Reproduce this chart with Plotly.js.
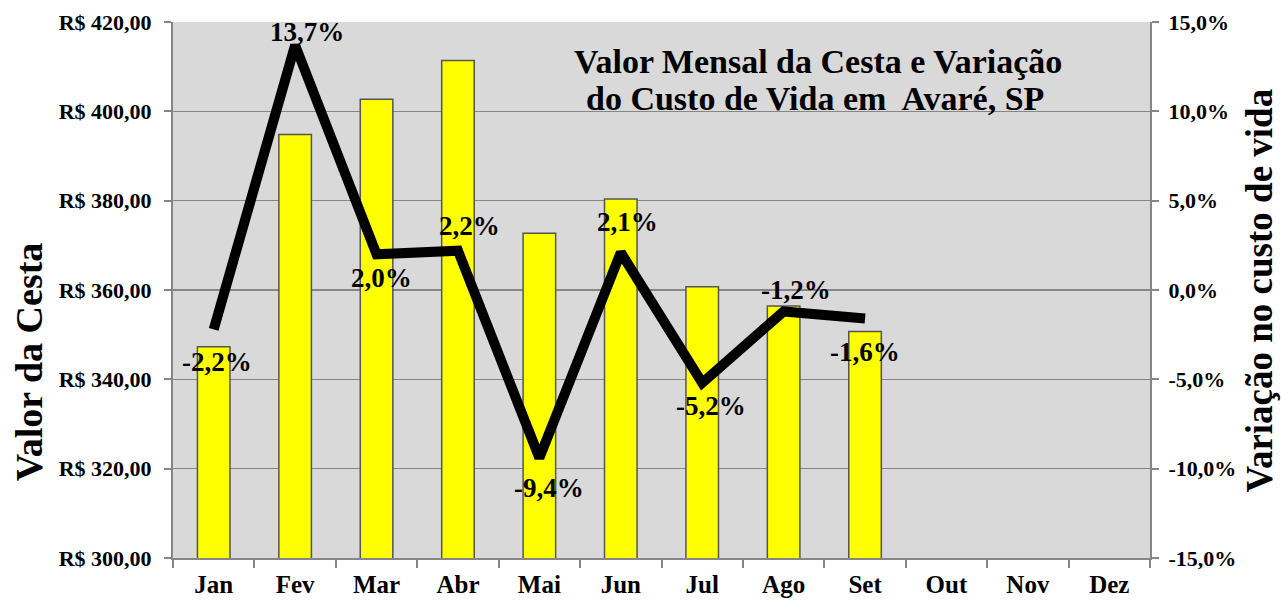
<!DOCTYPE html>
<html>
<head>
<meta charset="utf-8">
<script src="https://cdn.plot.ly/plotly-3.0.1.min.js"></script>
<style>html,body{margin:0;padding:0;background:#fff;}#chart{width:1281px;height:602px;}</style>
</head>
<body>
<div id="chart"></div>
<script>
var months = ['Jan','Fev','Mar','Abr','Mai','Jun','Jul','Ago','Set','Out','Nov','Dez'];
var cestaValues = [347.3, 394.8, 402.7, 411.4, 372.7, 380.4, 360.7, 356.4, 350.7, null, null, null];
var variacaoMonths = ['Jan','Fev','Mar','Abr','Mai','Jun','Jul','Ago','Set'];
var variacaoValues = [-2.2, 13.7, 2.0, 2.2, -9.4, 2.1, -5.2, -1.2, -1.6];
var variacaoLabels = ['-2,2%','13,7%','2,0%','2,2%','-9,4%','2,1%','-5,2%','-1,2%','-1,6%'];
var leftTickVals = [300, 320, 340, 360, 380, 400, 420];
var leftTickText = ['R$ 300,00','R$ 320,00','R$ 340,00','R$ 360,00','R$ 380,00','R$ 400,00','R$ 420,00'];
var rightTickVals = [-15, -10, -5, 0, 5, 10, 15];
var rightTickText = ['-15,0%','-10,0%','-5,0%','0,0%','5,0%','10,0%','15,0%'];

// label placement (style only): pixel offsets from each point
var labelDX = [3, 12, 5, 12, 10, 7, 9, 12, 0];
var labelDY = [-33, 13, -24, 25, -30, 30, -23, 21, -33];

var serif = '"Liberation Serif", "Times New Roman", serif';

var bars = {
  type: 'bar', x: months, y: cestaValues, name: 'Valor da Cesta',
  marker: {color: '#ffff00', line: {color: '#555555', width: 1.5}},
  hoverinfo: 'y'
};
var line = {
  type: 'scatter', mode: 'lines', x: variacaoMonths, y: variacaoValues, yaxis: 'y2', name: 'Variação',
  line: {color: '#000000', width: 10}
};

var annotations = [];
for (var i = 0; i < variacaoLabels.length; i++) {
  annotations.push({
    x: variacaoMonths[i], y: variacaoValues[i], xref: 'x', yref: 'y2',
    text: '<b>' + variacaoLabels[i] + '</b>', showarrow: false,
    xshift: labelDX[i], yshift: labelDY[i],
    font: {family: serif, size: 27, color: '#000'}
  });
}
annotations.push({
  xref: 'paper', yref: 'paper', x: 0.660, y: 0.927, xanchor: 'center', yanchor: 'middle',
  text: '<b>Valor Mensal da Cesta e Variação</b>',
  showarrow: false, font: {family: serif, size: 34, color: '#000'}
});
annotations.push({
  xref: 'paper', yref: 'paper', x: 0.657, y: 0.858, xanchor: 'center', yanchor: 'middle',
  text: '<b>do Custo de Vida em  Avaré, SP</b>',
  showarrow: false, font: {family: serif, size: 34, color: '#000'}
});
annotations.push({
  xref: 'paper', yref: 'paper', x: -0.148, y: 0.366, xanchor: 'center', yanchor: 'middle',
  text: '<b>Valor da Cesta</b>', textangle: -90, showarrow: false,
  font: {family: serif, size: 38, color: '#000'}
});
annotations.push({
  xref: 'paper', yref: 'paper', x: 1.112, y: 0.5, xanchor: 'center', yanchor: 'middle',
  text: '<b>Variação no custo de vida</b>', textangle: -90, showarrow: false,
  font: {family: serif, size: 37, color: '#000'}
});

var layout = {
  width: 1281, height: 602,
  margin: {l: 173, r: 131, t: 22, b: 44, pad: 0},
  paper_bgcolor: '#ffffff', plot_bgcolor: '#d9d9d9',
  showlegend: false, bargap: 0.6,
  font: {family: serif, color: '#000'},
  xaxis: {
    type: 'category', categoryorder: 'array', categoryarray: months,
    range: [-0.5, 11.5], showline: true, linecolor: '#868686', linewidth: 2,
    ticks: 'outside', tickson: 'boundaries', ticklen: 8, tickcolor: '#868686', tickwidth: 2,
    ticklabelstandoff: 3,
    tickfont: {family: serif, size: 25, color: '#000', weight: 'bold'},
    showgrid: false, fixedrange: true
  },
  yaxis: {
    range: [300, 420], tickvals: leftTickVals, ticktext: leftTickText,
    showline: true, linecolor: '#868686', linewidth: 2,
    ticks: 'outside', ticklen: 7, tickcolor: '#868686', tickwidth: 2,
    ticklabelstandoff: 8,
    gridcolor: '#868686', gridwidth: 1.5, zeroline: false,
    tickfont: {family: serif, size: 22, color: '#000', weight: 'bold'},
    fixedrange: true
  },
  yaxis2: {
    overlaying: 'y', side: 'right', range: [-15, 15],
    tickvals: rightTickVals, ticktext: rightTickText,
    showline: true, linecolor: '#868686', linewidth: 2,
    ticks: 'outside', ticklen: 7, tickcolor: '#868686', tickwidth: 2,
    ticklabelstandoff: 5,
    showgrid: false, zeroline: false,
    tickfont: {family: serif, size: 22, color: '#000', weight: 'bold'},
    fixedrange: true
  },
  annotations: annotations
};

Plotly.newPlot('chart', [bars, line], layout, {displayModeBar: false, staticPlot: true});
</script>
</body>
</html>
